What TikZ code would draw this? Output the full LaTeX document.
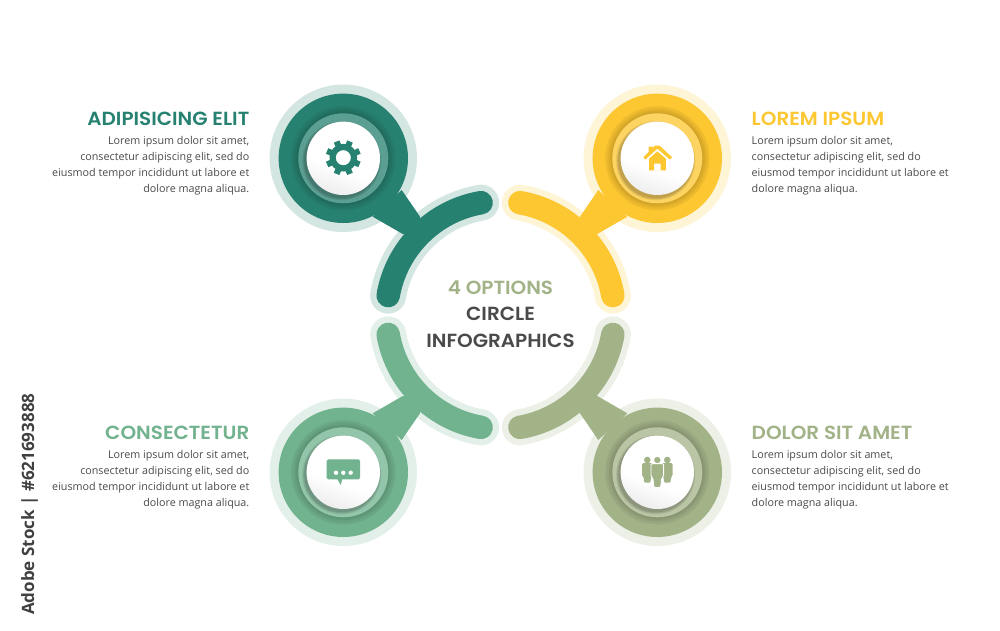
\documentclass[tikz,border=0pt]{standalone}
\usepackage{fontspec}
\setmainfont{Open Sans}
\newfontfamily\headfont{Poppins}[UprightFont=* SemiBold,FakeStretch=1.05]
\usetikzlibrary{calc}
\definecolor{cA}{HTML}{278170}
\definecolor{cB}{HTML}{FDC731}
\definecolor{cC}{HTML}{71B28F}
\definecolor{cD}{HTML}{A3B388}
\definecolor{tbody}{HTML}{4A4A4A}
\pgfdeclareverticalshading{diskshade}{100bp}{color(0bp)=(black!16); color(22bp)=(black!8); color(42bp)=(white); color(100bp)=(white)}
\tikzset{
  x=1pt,y=-1pt,
  headtext/.style={font=\headfont\fontsize{19}{19}\selectfont,inner sep=0pt},
  centretext/.style={font=\headfont\fontsize{19}{19}\selectfont,inner sep=0pt,text=tbody},
  bodyleft/.style={font=\fontsize{10.75}{16}\selectfont,text=tbody,inner sep=0pt,align=right,anchor=north east},
  bodyright/.style={font=\fontsize{10.75}{16}\selectfont,text=tbody,inner sep=0pt,align=left,anchor=north west},
}
\newcommand{\petal}[4]{% colour, cx, cy, arc start angle
  \fill[#1!20!white] (#2,#3) circle[radius=73.7];
  \draw[#1!20!white,line width=36pt,line cap=round]
    ($(500.5,315)+(#4:114 and -114)$) arc[start angle=#4,delta angle=70.4,x radius=114,y radius=-114];
  \draw[#1,line width=23.5pt,line cap=round]
    ($(500.5,315)+(#4:114 and -114)$) arc[start angle=#4,delta angle=70.4,x radius=114,y radius=-114];
}
\newcommand{\disc}[3]{% colour, cx, cy
  \begin{scope}[shift={(#2,#3)}]
    \fill[#1] (0,0) circle[radius=64.7];
    \fill[#1!94!black] (0,0) circle[radius=52];
    \foreach \r in {50,49,48,47,46}{\fill[black,opacity=.022] (0,0) circle[radius=\r];}
    \fill[#1!76!white] (0,0) circle[radius=45];
    \foreach \r in {39.5,38.5,37.5}{\fill[black,opacity=.085] (-1.6,2.4) circle[radius=\r];}
    \shade[shading=diskshade,shading angle=-20] (0,0) circle[radius=36.7];
  \end{scope}
}
\begin{document}
\begin{tikzpicture}
\useasboundingbox (0,0) rectangle (1000,630);
\fill[white] (0,0) rectangle (1000,630);

% halos and arcs
\petal{cA}{343.3}{158.3}{99.8}
\petal{cB}{657.3}{158.3}{9.8}
\petal{cC}{343.3}{472.3}{189.8}
\petal{cD}{657.3}{472.3}{279.8}

% stems
\fill[cA] (401.7,190)--(420,216.7)--(420,234)--(402.7,234)--(372.7,216.7)--cycle;
\fill[cB] (598.3,190)--(580,216.7)--(580,234)--(597.3,234)--(627.3,216.7)--cycle;
\fill[cC] (401.7,440)--(420,413.3)--(420,396)--(402.7,396)--(372.7,413.3)--cycle;
\fill[cD] (598.3,440)--(580,413.3)--(580,396)--(597.3,396)--(627.3,413.3)--cycle;

% discs
\disc{cA}{343.3}{158.3}
\disc{cB}{657.3}{158.3}
\disc{cC}{343.3}{472.3}
\disc{cD}{657.3}{472.3}

% gear
\begin{scope}[shift={(343.3,157.7)}]
  \foreach \a in {0,45,...,315}{\fill[cA,rotate=\a+22.5] (-3,-17.5) rectangle (3,-10);}
  \fill[cA,even odd rule] (0,0) circle[radius=13.8] (0,0) circle[radius=7.6];
\end{scope}

% house
\fill[cB] (643.3,157.2)--(648.7,151.8)--(648.7,146.7)--(652.7,146.7)--(652.7,147.8)--(655,145.7)--(659.6,145.7)--(672,157.2)--(670,159.6)--(657.3,148.6)--(645.3,159.6)--cycle;
\fill[cB,even odd rule] (657.3,151.3)--(665.9,158.8)--(665.9,170.3)--(649,170.3)--(649,158.8)--cycle
  (654,163.7) rectangle (660.7,170.3);

% chat
\fill[cC,rounded corners=1.5pt] (326.7,459.3) rectangle (360,479.3);
\fill[cC] (337.3,479)--(340.7,485)--(342.3,479)--cycle;
\foreach \dx in {336,343.3,350.7}{\fill[white] (\dx,472.7) circle[radius=2.2];}

% people
\foreach \dx in {-10,10}{
  \begin{scope}[shift={(657.3+\dx,0)}]
    \fill[cD] (0,460) circle[radius=3.3];
    \fill[cD,rounded corners=1.2pt] (-5.2,463)--(5.2,463)--(5.2,476)--(3.6,477)--(3.2,482.7)--(-3.2,482.7)--(-3.6,477)--(-5.2,476)--cycle;
  \end{scope}
}
\begin{scope}[shift={(657.3,0)}]
  \fill[cD,draw=white,line width=.9pt] (0,460) circle[radius=3.8];
  \fill[cD,draw=white,line width=.9pt,rounded corners=1.2pt] (-6.3,463.6)--(6.3,463.6)--(6.3,476.5)--(4.4,478)--(3.4,487.5)--(-3.4,487.5)--(-4.4,478)--(-6.3,476.5)--cycle;
\end{scope}

% labels
\node[headtext,text=cA,anchor=base east] (tA) at (249.5,125) {ADIPISICING ELIT};
\node[headtext,text=cB,anchor=base west] (tB) at (751.5,125) {LOREM IPSUM};
\node[headtext,text=cC,anchor=base east] (tC) at (249.5,439) {CONSECTETUR};
\node[headtext,text=cD,anchor=base west] (tD) at (751.5,439) {DOLOR SIT AMET};
\node[bodyleft] (bA) at (249.5,136) {Lorem ipsum dolor sit amet,\\consectetur adipiscing elit, sed do\\eiusmod tempor incididunt ut labore et\\dolore magna aliqua.};
\node[bodyright] (bB) at (751.5,136) {Lorem ipsum dolor sit amet,\\consectetur adipiscing elit, sed do\\eiusmod tempor incididunt ut labore et\\dolore magna aliqua.};
\node[bodyleft] (bC) at (249.5,450) {Lorem ipsum dolor sit amet,\\consectetur adipiscing elit, sed do\\eiusmod tempor incididunt ut labore et\\dolore magna aliqua.};
\node[bodyright] (bD) at (751.5,450) {Lorem ipsum dolor sit amet,\\consectetur adipiscing elit, sed do\\eiusmod tempor incididunt ut labore et\\dolore magna aliqua.};

\node[centretext,text=cD,anchor=base] (c1) at (500.5,294) {4 OPTIONS};
\node[centretext,anchor=base] (c2) at (500.5,320.5) {CIRCLE};
\node[centretext,anchor=base] (c3) at (500.5,347) {INFOGRAPHICS};

\node[rotate=90,anchor=west,inner sep=0pt,font=\bfseries\fontsize{17}{17}\selectfont,text=black!75] (stock) at (29.5,615) {Adobe Stock | \#621693888};
\end{tikzpicture}
\end{document}
